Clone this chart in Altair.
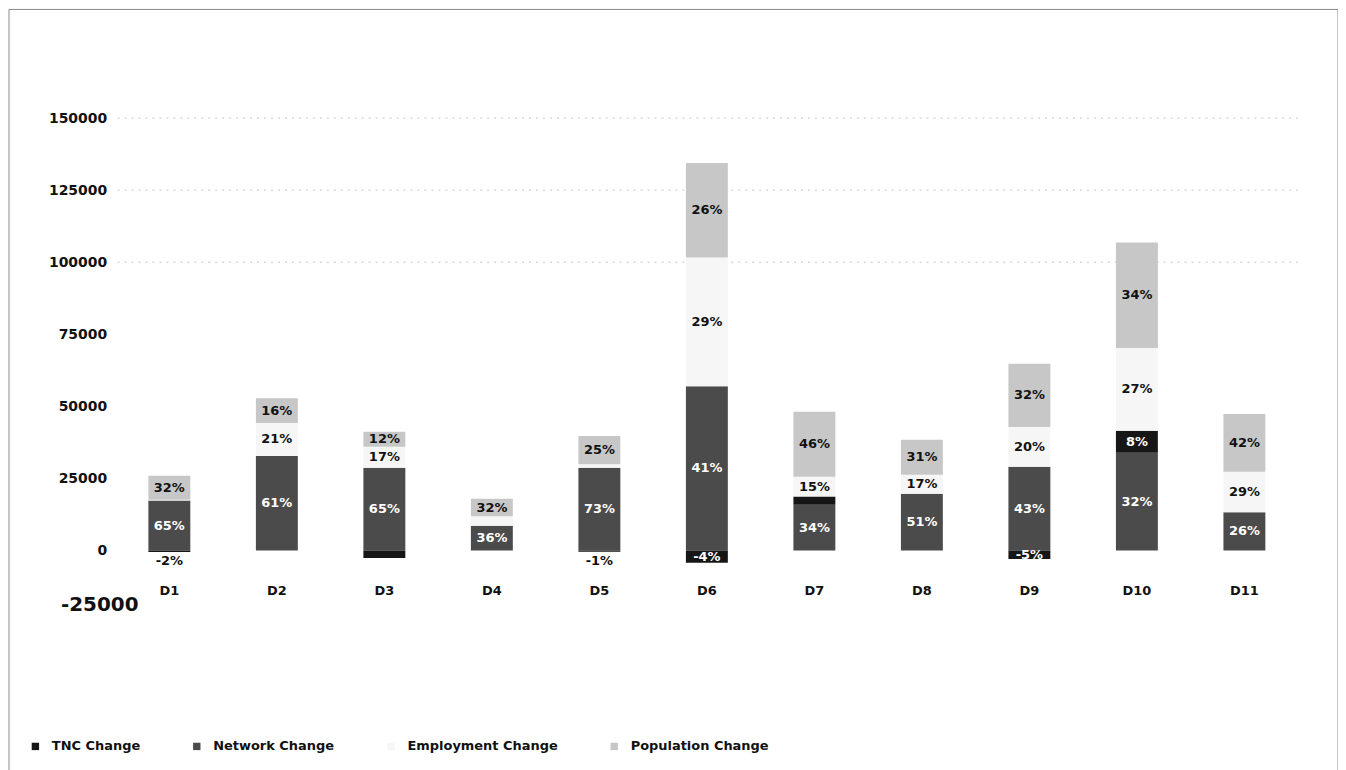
import altair as alt
import pandas as pd

districts = ["D1", "D2", "D3", "D4", "D5", "D6", "D7", "D8", "D9", "D10", "D11"]
network = [17300, 32800, 28700, 8600, 28700, 57000, 15900, 19700, 29000, 33900, 13300]
tnc = [-500, 0, -2600, 0, -400, -4300, 2800, 0, -3000, 7600, 0]
employment = [300, 11400, 7300, 3300, 1200, 44600, 6900, 6600, 13800, 28700, 14000]
population = [8300, 8600, 5200, 6000, 9800, 32800, 22500, 12100, 22000, 36600, 20000]

network_pct = ["65%", "61%", "65%", "36%", "73%", "41%", "34%", "51%", "43%", "32%", "26%"]
tnc_pct = ["-2%", "", "", "", "-1%", "-4%", "", "", "-5%", "8%", ""]
employment_pct = ["", "21%", "17%", "", "", "29%", "15%", "17%", "20%", "27%", "29%"]
population_pct = ["32%", "16%", "12%", "32%", "25%", "26%", "46%", "31%", "32%", "34%", "42%"]

legend_order = ["TNC Change", "Network Change", "Employment Change", "Population Change"]
legend_colors = ["#161616", "#4b4b4b", "#f6f6f6", "#c7c7c7"]

y_ticks = [0, 25000, 50000, 75000, 100000, 125000, 150000]
grid_values = [100000, 125000, 150000]
extra_tick = "-25000"

FONT = "DejaVu Sans"

rows = []
stack_order = [
    ("Network Change", network, network_pct),
    ("TNC Change", tnc, tnc_pct),
    ("Employment Change", employment, employment_pct),
    ("Population Change", population, population_pct),
]
for i, d in enumerate(districts):
    pos = 0.0
    for name, vals, pcts in stack_order:
        v = vals[i]
        if v >= 0:
            lo, hi = pos, pos + v
            pos = hi
            mid = (lo + hi) / 2
            dark = name in ("Network Change", "TNC Change")
        else:
            lo, hi = v, 0
            mid = v / 2 if abs(v) >= 2500 else -3800
            dark = abs(v) >= 2500
        rows.append(dict(district=d, series=name, lo=lo, hi=hi, mid=mid,
                         label=pcts[i], txtcolor="#ffffff" if dark else "#111111"))
df = pd.DataFrame(rows)

x_axis = alt.Axis(title=None, labelAngle=0, domain=False, ticks=False, labelPadding=5,
                  labelFont=FONT, labelFontSize=13, labelFontWeight="bold", labelColor="#111111")
x_scale = alt.Scale(paddingInner=0.61, paddingOuter=0.305)
y_axis = alt.Axis(title=None, values=y_ticks, domain=False, ticks=False, grid=False,
                  labelPadding=9, format="d", labelFont=FONT, labelFontSize=14,
                  labelFontWeight="bold", labelColor="#111111")
y_scale = alt.Scale(domain=[-10000, 150000], nice=False, zero=False)

grid = alt.Chart(pd.DataFrame({"g": grid_values})).mark_rule(
    color="#c4c4c4", strokeWidth=1, strokeDash=[2, 5]
).encode(y=alt.Y("g:Q", scale=y_scale, axis=y_axis))

bars = alt.Chart(df).mark_bar().encode(
    x=alt.X("district:N", sort=districts, scale=x_scale, axis=x_axis),
    y=alt.Y("lo:Q", scale=y_scale, axis=y_axis),
    y2="hi:Q",
    color=alt.Color("series:N", scale=alt.Scale(domain=legend_order, range=legend_colors),
                    legend=alt.Legend(title=None, orient="none", legendX=-87, legendY=624,
                                      direction="horizontal", symbolType="square",
                                      symbolSize=55, symbolStrokeWidth=0,
                                      labelFont=FONT, labelFontSize=13,
                                      labelFontWeight="bold", labelColor="#111111",
                                      columnPadding=50, labelOffset=10)),
)

labels = alt.Chart(df[df["label"] != ""]).mark_text(
    font=FONT, fontSize=13, fontWeight="bold", baseline="middle", align="center"
).encode(
    x=alt.X("district:N", sort=districts, scale=x_scale, axis=x_axis),
    y=alt.Y("mid:Q", scale=y_scale, axis=y_axis),
    text="label:N",
    color=alt.Color("txtcolor:N", scale=None),
)

neg_label = alt.Chart(pd.DataFrame({"t": [extra_tick]})).mark_text(
    font=FONT, fontSize=20, fontWeight="bold", align="right", baseline="middle", color="#111111"
).encode(x=alt.value(23), y=alt.datum(-19000), text="t:N")

frame = alt.Chart(pd.DataFrame({"f": [0]})).mark_rect(
    filled=False, stroke="#8a8a8a", strokeWidth=1
).encode(x=alt.value(-107), x2=alt.value(1227), y=alt.value(-109), y2=alt.value(680))

chart = alt.layer(frame, grid, bars, labels, neg_label).properties(
    width=1187, height=463,
    background="#ffffff",
    autosize=alt.AutoSizeParams(type="none"),
    padding={"left": 108, "top": 109, "right": 40, "bottom": 200},
).configure_view(stroke="transparent", strokeWidth=0)

chart.save("out.html", embed_options={"renderer": "svg", "actions": False})
